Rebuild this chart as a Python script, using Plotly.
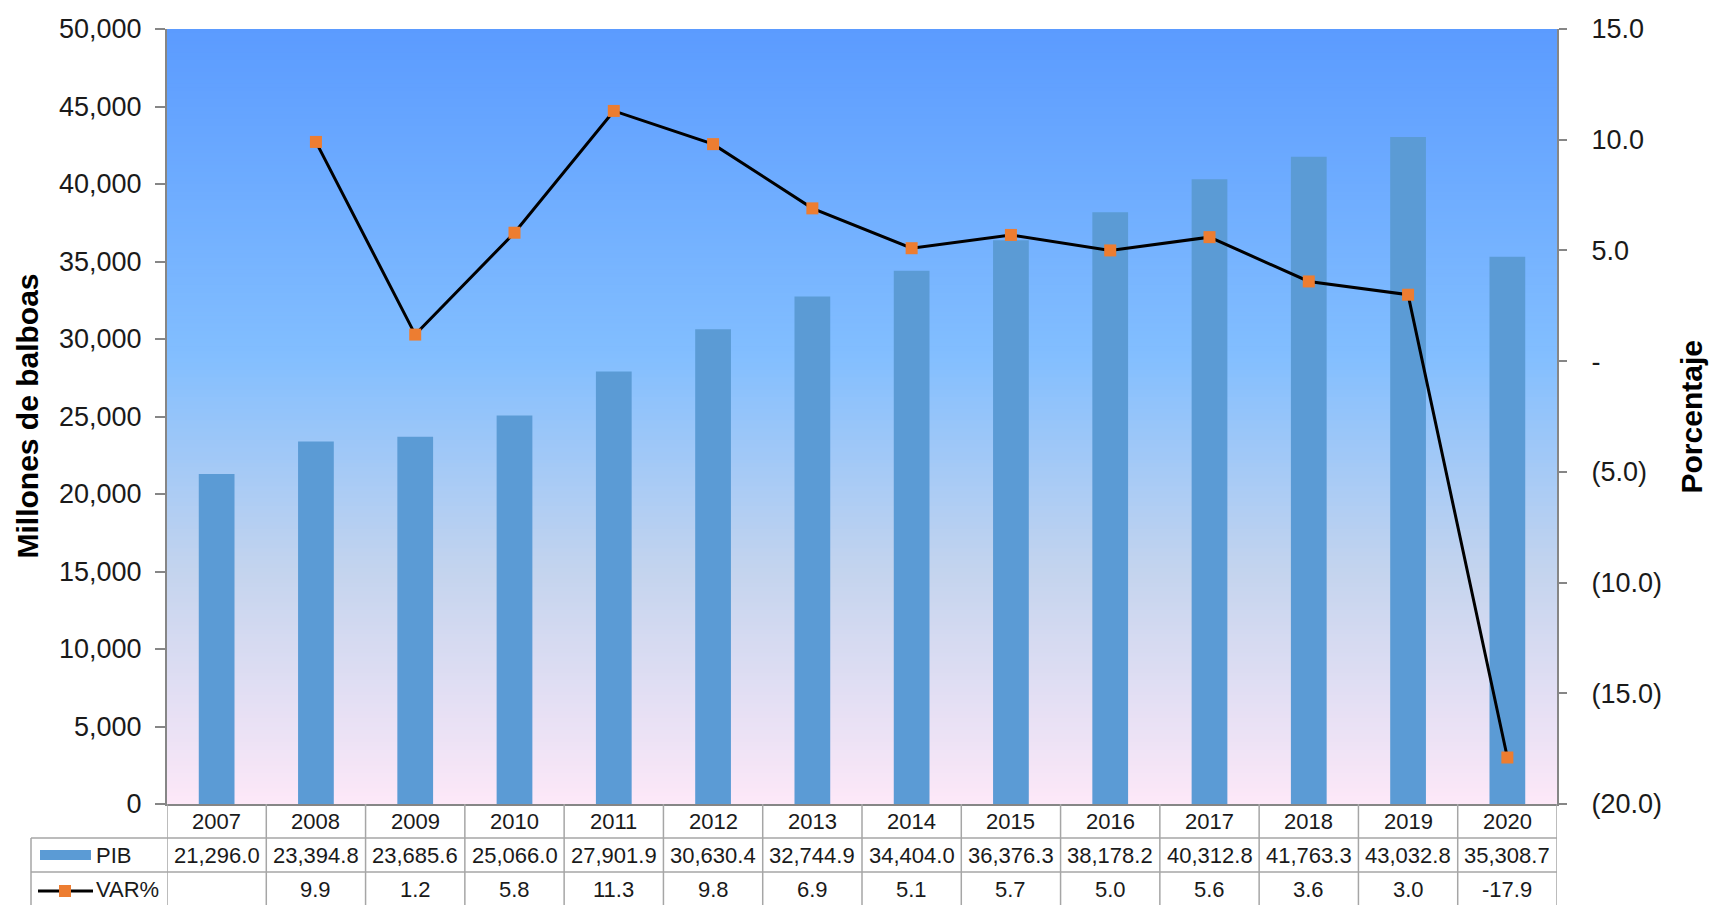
import plotly.graph_objects as go

years = ["2007", "2008", "2009", "2010", "2011", "2012", "2013",
         "2014", "2015", "2016", "2017", "2018", "2019", "2020"]
pib = [21296.0, 23394.8, 23685.6, 25066.0, 27901.9, 30630.4, 32744.9,
       34404.0, 36376.3, 38178.2, 40312.8, 41763.3, 43032.8, 35308.7]
var_pct = [None, 9.9, 1.2, 5.8, 11.3, 9.8, 6.9, 5.1, 5.7, 5.0, 5.6, 3.6, 3.0, -17.9]

y2_tickvals = [15, 10, 5, 0, -5, -10, -15, -20]
y2_ticktext = ["15.0", "10.0", "5.0", "-", "(5.0)", "(10.0)", "(15.0)", "(20.0)"]

W, H = 1711, 905
L, R, T, B = 167, 1557, 29, 804
PW, PH = R - L, B - T

FONT = "Liberation Sans, Arial, sans-serif"
BAR_COLOR = "#5B9BD5"
MARK_COLOR = "#ED7D31"
AXIS_COLOR = "#868686"
GRID_COLOR = "#A6A6A6"


def px_x(px):
    return (px - L) / PW


def px_y(py):
    return (B - py) / PH


fig = go.Figure()
fig.add_trace(go.Bar(x=years, y=pib, name="PIB", marker_color=BAR_COLOR,
                     marker_line_width=0, width=0.36, yaxis="y"))
fig.add_trace(go.Scatter(x=years, y=var_pct, name="VAR%", yaxis="y2",
                         mode="lines+markers", connectgaps=False,
                         line=dict(color="black", width=3),
                         marker=dict(symbol="square", size=12, color=MARK_COLOR)))

# gradient background
stops = [(0.0, (91, 155, 255)), (0.42, (130, 190, 255)),
         (0.7, (196, 212, 238)), (1.0, (253, 232, 248))]


def grad(t):
    for (a, ca), (b, cb) in zip(stops[:-1], stops[1:]):
        if a <= t <= b:
            f = (t - a) / (b - a)
            return "rgb(%d,%d,%d)" % tuple(round(ca[i] + (cb[i] - ca[i]) * f) for i in range(3))
    return "rgb(%d,%d,%d)" % stops[-1][1]


shapes = []
N = 200
for i in range(N):
    t = (i + 0.5) / N
    shapes.append(dict(type="rect", xref="paper", yref="paper", layer="below",
                       x0=0, x1=1, y0=1 - i / N, y1=1 - (i + 1) / N - 0.001,
                       fillcolor=grad(t), line=dict(width=0)))

# table grid
bottom_y = px_y(H + 5)
for k in range(len(years) + 1):
    shapes.append(dict(type="line", xref="x", yref="paper", x0=k - 0.5, x1=k - 0.5,
                       y0=0, y1=bottom_y, line=dict(color=GRID_COLOR, width=1.5)))
for py in (838, 872):
    shapes.append(dict(type="line", xref="paper", yref="paper", x0=px_x(31), x1=1,
                       y0=px_y(py), y1=px_y(py), line=dict(color=GRID_COLOR, width=1.5)))
shapes.append(dict(type="line", xref="paper", yref="paper", x0=px_x(31), x1=px_x(31),
                   y0=px_y(838), y1=bottom_y, line=dict(color=GRID_COLOR, width=1.5)))

# legend keys inside table
shapes.append(dict(type="rect", xref="paper", yref="paper", x0=px_x(40), x1=px_x(91),
                   y0=px_y(860), y1=px_y(850), fillcolor=BAR_COLOR, line=dict(width=0)))
shapes.append(dict(type="line", xref="paper", yref="paper", x0=px_x(38), x1=px_x(93),
                   y0=px_y(891), y1=px_y(891), line=dict(color="black", width=3)))
shapes.append(dict(type="rect", xref="paper", yref="paper", x0=px_x(59), x1=px_x(71),
                   y0=px_y(897), y1=px_y(885), fillcolor=MARK_COLOR, line=dict(width=0)))

annotations = []
TF = dict(family=FONT, size=22, color="#1a1a1a")
for i, yr in enumerate(years):
    annotations.append(dict(x=i, y=px_y(821), xref="x", yref="paper", text=yr,
                            showarrow=False, font=TF, xanchor="center", yanchor="middle"))
    annotations.append(dict(x=i, y=px_y(855), xref="x", yref="paper",
                            text=f"{pib[i]:,.1f}", showarrow=False, font=TF,
                            xanchor="center", yanchor="middle"))
    if var_pct[i] is not None:
        annotations.append(dict(x=i, y=px_y(890), xref="x", yref="paper",
                                text=f"{var_pct[i]:.1f}", showarrow=False, font=TF,
                                xanchor="center", yanchor="middle"))
annotations.append(dict(x=px_x(94), y=px_y(855), xref="paper", yref="paper", text="PIB",
                        showarrow=False, font=TF, xanchor="left", yanchor="middle"))
annotations.append(dict(x=px_x(94), y=px_y(890), xref="paper", yref="paper", text="VAR%",
                        showarrow=False, font=TF, xanchor="left", yanchor="middle"))
# axis titles
annotations.append(dict(x=px_x(27), y=0.5, xref="paper", yref="paper",
                        text="<b>Millones de balboas</b>", textangle=-90, showarrow=False,
                        font=dict(family=FONT, size=30, color="black"),
                        xanchor="center", yanchor="middle"))
annotations.append(dict(x=px_x(1691), y=0.5, xref="paper", yref="paper",
                        text="<b>Porcentaje</b>", textangle=-90, showarrow=False,
                        font=dict(family=FONT, size=30, color="black"),
                        xanchor="center", yanchor="middle"))

fig.update_layout(
    width=W, height=H,
    margin=dict(l=L, r=W - R, t=T, b=H - B, pad=0),
    paper_bgcolor="white", plot_bgcolor="rgba(0,0,0,0)",
    showlegend=False,
    font=dict(family=FONT, size=27, color="#1a1a1a"),
    xaxis=dict(type="category", range=[-0.5, len(years) - 0.5], showticklabels=False,
               showgrid=False, zeroline=False, showline=True, linecolor=AXIS_COLOR,
               linewidth=2, ticks=""),
    yaxis=dict(range=[0, 50000], dtick=5000, tickformat=",d", showgrid=False,
               zeroline=False, showline=True, linecolor=AXIS_COLOR, linewidth=2,
               ticks="outside", ticklen=10, tickcolor=AXIS_COLOR, tickwidth=2,
               ticklabelstandoff=8, tickfont=dict(family=FONT, size=27, color="#1a1a1a")),
    yaxis2=dict(range=[-20, 15], overlaying="y", side="right", tickvals=y2_tickvals,
                ticktext=y2_ticktext, showgrid=False, zeroline=False, showline=True,
                linecolor=AXIS_COLOR, linewidth=2, ticks="outside", ticklen=8,
                tickcolor=AXIS_COLOR, tickwidth=2, ticklabelstandoff=19,
                tickfont=dict(family=FONT, size=27, color="#1a1a1a")),
    shapes=shapes,
    annotations=annotations,
)

fig.write_html("out.html", config={"displayModeBar": False},
               post_script="document.body.style.margin='0';document.body.style.overflow='hidden';")
